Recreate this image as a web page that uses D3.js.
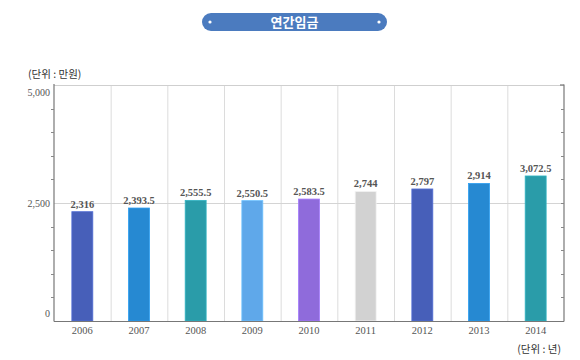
<!DOCTYPE html>
<html><head><meta charset="utf-8">
<script src="https://cdnjs.cloudflare.com/ajax/libs/d3/7.8.5/d3.min.js"></script>
<style>body{margin:0;background:#fff}</style>
</head><body>
<script>
const categories = ["2006","2007","2008","2009","2010","2011","2012","2013","2014"];
const values = [2316, 2393.5, 2555.5, 2550.5, 2583.5, 2744, 2797, 2914, 3072.5];
const valueLabels = ["2,316","2,393.5","2,555.5","2,550.5","2,583.5","2,744","2,797","2,914","3,072.5"];
const colors = ["#475fb9","#2689d2","#2a9ca9","#5fa8ea","#8f6bdb","#d2d2d2","#475fb9","#2689d2","#2a9ca9"];
const yTicks = [0, 2500, 5000];
const yTickLabels = ["0","2,500","5,000"];
const minorTicks = [500,1000,1500,2000,3000,3500,4000,4500];
const title = "연간임금";
const yUnit = "(단위 : 만원)";
const xUnit = "(단위 : 년)";

const W=580,H=360;
const svg=d3.select("body").append("svg").attr("width",W).attr("height",H);
const L=54,R=564,T=85,B=321;
const x=d3.scaleBand().domain(categories).range([L,R]).paddingInner(0.63).paddingOuter(0.315);
const xb=d3.scaleBand().domain(categories).range([L,R]);
const y=d3.scaleLinear().domain([0,5000]).range([B,T]);

// title pill
const g0=svg.append("g");
g0.append("rect").attr("x",202).attr("y",13).attr("width",185).attr("height",18).attr("rx",9).attr("fill","#4b7bbf");
g0.append("circle").attr("cx",210).attr("cy",22).attr("r",1.6).attr("fill","#fff");
g0.append("circle").attr("cx",379).attr("cy",22).attr("r",1.6).attr("fill","#fff");
g0.append("text").attr("x",294.5).attr("y",26.5).attr("text-anchor","middle").attr("fill","#fff")
  .attr("font-family","'Noto Sans CJK KR'").attr("font-weight","bold").attr("font-size",13).text(title);

// units
svg.append("text").attr("x",28).attr("y",78).attr("font-family","'Noto Sans CJK KR'").attr("font-size",10.5).attr("fill","#333").text(yUnit);
svg.append("text").attr("x",561).attr("y",353).attr("text-anchor","end").attr("font-family","'Noto Sans CJK KR'").attr("font-size",10.5).attr("fill","#333").text(xUnit);

// grid
svg.append("g").selectAll("line").data(categories.slice(1)).join("line")
  .attr("x1",d=>xb(d)+0.5).attr("x2",d=>xb(d)+0.5).attr("y1",T).attr("y2",B).attr("stroke","#dcdcdc");
svg.append("line").attr("x1",L).attr("x2",R).attr("y1",y(2500)+0.5).attr("y2",y(2500)+0.5).attr("stroke","#d4d4d4");
svg.append("line").attr("x1",L).attr("x2",R).attr("y1",T+0.5).attr("y2",T+0.5).attr("stroke","#cfcfcf");

// bars
svg.append("g").selectAll("rect").data(values).join("rect")
  .attr("x",(d,i)=>x(categories[i])).attr("width",x.bandwidth())
  .attr("y",d=>y(d)).attr("height",d=>B-y(d))
  .attr("fill",(d,i)=>colors[i]).attr("stroke",(d,i)=>d3.color(colors[i]).brighter(0.4)).attr("stroke-width",0.8);

// value labels
svg.append("g").selectAll("text").data(values).join("text")
  .attr("x",(d,i)=>x(categories[i])+x.bandwidth()/2).attr("y",d=>y(d)-4)
  .attr("text-anchor","middle").attr("font-family","'Liberation Serif'").attr("font-size",10.5)
  .attr("font-weight","bold").attr("fill","#555").text((d,i)=>valueLabels[i]);

// axes
const ax=svg.append("g").attr("stroke","#777").attr("stroke-width",1.2);
ax.append("line").attr("x1",L).attr("x2",L).attr("y1",T-1).attr("y2",B+0.5);
ax.append("line").attr("x1",L).attr("x2",R).attr("y1",B+0.5).attr("y2",B+0.5);
ax.append("line").attr("x1",R).attr("x2",R).attr("y1",T-0.5).attr("y2",B+0.5);
ax.append("line").attr("x1",R-4).attr("x2",R).attr("y1",T).attr("y2",T);
svg.append("g").selectAll("line").data(minorTicks).join("line")
  .attr("x1",L-3).attr("x2",L).attr("y1",d=>Math.round(y(d))+0.5).attr("y2",d=>Math.round(y(d))+0.5).attr("stroke","#888");
svg.append("g").selectAll("line").data(minorTicks.concat([2500])).join("line")
  .attr("x1",R-3).attr("x2",R).attr("y1",d=>Math.round(y(d))+0.5).attr("y2",d=>Math.round(y(d))+0.5).attr("stroke","#888");

// y labels
const yOff={0:-4,2500:4,5000:11};
svg.append("g").selectAll("text").data(yTicks).join("text")
  .attr("x",50).attr("y",(d)=>y(d)+yOff[d]).attr("text-anchor","end")
  .attr("font-family","'Liberation Serif'").attr("font-size",10).attr("fill","#555").text((d,i)=>yTickLabels[i]);

// x labels
svg.append("g").selectAll("text").data(categories).join("text")
  .attr("x",d=>x(d)+x.bandwidth()/2).attr("y",334).attr("text-anchor","middle")
  .attr("font-family","'Liberation Serif'").attr("font-size",10.5).attr("fill","#555").text(d=>d);
</script>
</body></html>
